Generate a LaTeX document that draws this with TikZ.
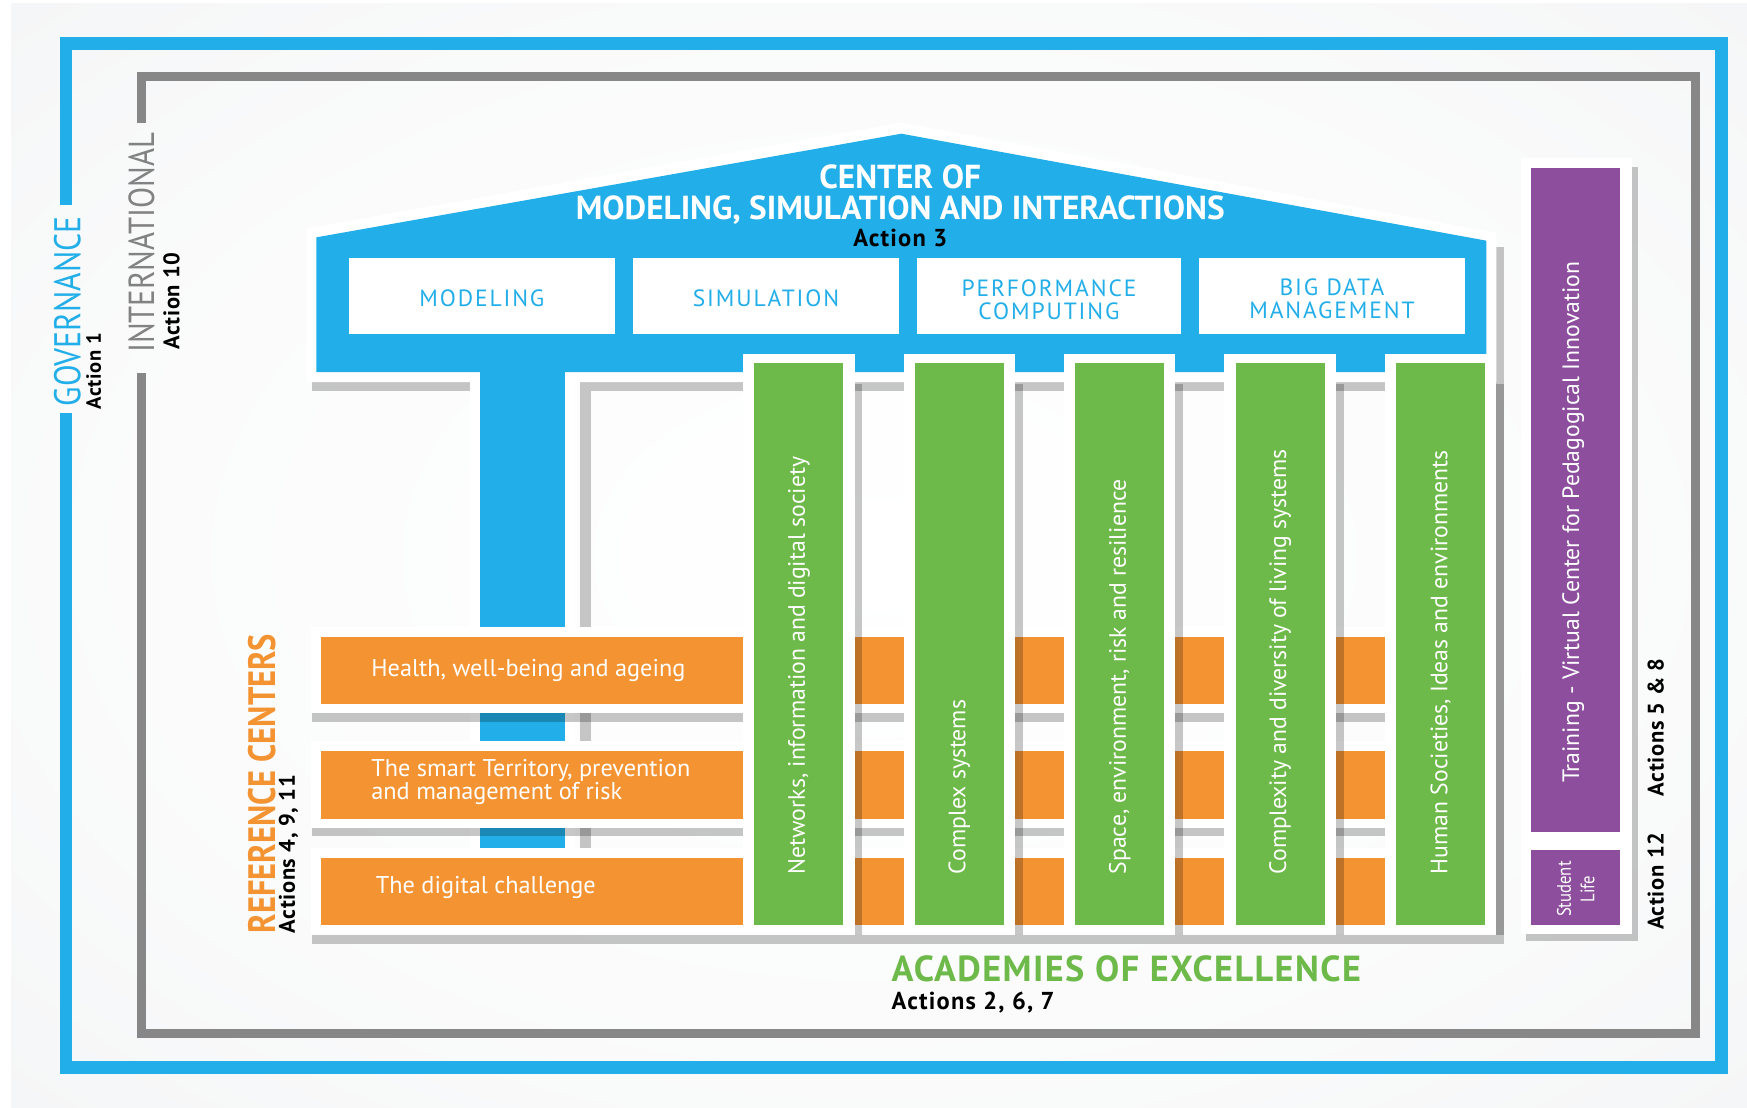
\documentclass[tikz,border=0pt]{standalone}
\usepackage{fontspec}
\setmainfont{PT Sans}
\newfontfamily\condfont[FakeStretch=0.85]{PT Sans}
\newfontfamily\spacedfont[LetterSpace=8]{PT Sans}
\newfontfamily\acadfont[LetterSpace=4]{PT Sans}
\newfontfamily\actfont[LetterSpace=5]{PT Sans}
\newfontfamily\ractfont[LetterSpace=3]{PT Sans}
\newcommand\fnt[2]{\fontsize{#1}{#2}\selectfont}
\definecolor{cblue}{HTML}{22AEE9}
\definecolor{cgreen}{HTML}{6DBA4A}
\definecolor{corange}{HTML}{F39332}
\definecolor{cpurple}{HTML}{8C4E9D}
\definecolor{cgray}{HTML}{878787}
\definecolor{ctxtgray}{HTML}{828282}
\definecolor{bgedge}{HTML}{DDE1E5}
\definecolor{bgmid}{HTML}{F4F5F6}
\pgfdeclareradialshading{bgshade}{\pgfpoint{0bp}{0bp}}{color(0bp)=(white); color(22bp)=(white!60!bgmid); color(38bp)=(bgmid); color(50bp)=(bgedge)}
\begin{document}
\begin{tikzpicture}[x=0.2mm,y=-0.2mm,
  shadowc/.style={fill=black,opacity=0.22},
  boxtxt/.style={font=\spacedfont\fnt{12}{13}, text=cblue, anchor=base, inner sep=0pt},
  titletxt/.style={font=\bfseries\fnt{17}{20}, text=white, anchor=base, inner sep=0pt},
  acttxt/.style={font=\actfont\bfseries\fnt{12.5}{13}, text=black, inner sep=0pt},
  coltxt/.style={font=\fnt{12.1}{14}, text=white, rotate=90, anchor=west, inner sep=0pt},
  orgtxt/.style={font=\fnt{12.4}{14}, text=white, anchor=base west, inner sep=0pt},
  sidelab/.style={font=\condfont\fnt{19}{21}, rotate=90, anchor=west, inner sep=0pt},
  rotact/.style={font=\ractfont\bfseries\fnt{11.5}{13}, text=black, inner sep=0pt, rotate=90, anchor=west}]

\useasboundingbox (0,0) rectangle (1568,994);
\fill[white] (0,0) rectangle (1568,994);
\shade[shading=bgshade] (10,3) rectangle (1568,994);

% outer frames
\draw[cblue, line width=2.2mm, line join=miter] (59,184) -- (59,39) -- (1545,39) -- (1545,958) -- (59,958) -- (59,371);
\draw[cgray, line width=1.6mm, line join=miter] (127,110) -- (127,69) -- (1522,69) -- (1522,928) -- (127,928) -- (127,335);

% frame labels
\node[sidelab, text=cblue] (gov) at (60.5,365) {GOVERNANCE};
\node[rotact, font=\ractfont\bfseries\fnt{10.5}{12}] (act1) at (84,368) {Action 1};
\node[sidelab, font=\condfont\fnt{18.5}{21}, text=ctxtgray] (intl) at (127,317) {INTERNATIONAL};
\node[rotact] (act10) at (154,314) {Action 10};

% T-shaped center: shadows, white outline, blue body
\fill[shadowc] (280,343) rectangle (422,351);
\fill[shadowc] (521,343) rectangle (1343,351);
\fill[shadowc] (521,351) rectangle (530,765);
\fill[shadowc] (1343,222) rectangle (1350,839);
\fill[white] (275,205) -- (809,110) -- (1343,209) -- (1343,343) -- (516,343) -- (516,770) -- (422,770) -- (422,343) -- (275,343) -- cycle;
\fill[cblue] (284,213) -- (809,120) -- (1334,216) -- (1334,334) -- (507,334) -- (507,765) -- (431,765) -- (431,334) -- (284,334) -- cycle;

% title
\node[titletxt] (t1) at (808,169) {CENTER OF};
\node[titletxt] (t2) at (808,197) {MODELING, SIMULATION AND INTERACTIONS};
\node[acttxt, anchor=base] (act3) at (808,221) {Action 3};

% white boxes
\fill[white] (313,232) rectangle (552,300);
\fill[white] (568,232) rectangle (807,300);
\fill[white] (823,232) rectangle (1060,300);
\fill[white] (1076,232) rectangle (1315,300);
\node[boxtxt] (bmod) at (432.5,275) {MODELING};
\node[boxtxt] (bsim) at (687.5,275) {SIMULATION};
\node[boxtxt] (bperf1) at (941.5,266) {PERFORMANCE};
\node[boxtxt] (bperf2) at (941.5,287) {COMPUTING};
\node[boxtxt] (bbig1) at (1195.5,265) {BIG DATA};
\node[boxtxt] (bbig2) at (1195.5,286) {MANAGEMENT};

% orange rows
\fill[shadowc] (280,640) rectangle (1250,648);
\fill[shadowc] (280,743) rectangle (1250,750);
\fill[shadowc] (280,839) rectangle (1350,847);
\foreach \ya/\yb in {572/632, 674/735, 770/830}{
  \fill[white] (279,\ya-9) rectangle (1299,\yb+8);
  \fill[corange] (288,\ya) rectangle (1290,\yb);
}
\node[orgtxt] (o1) at (333,607) {Health, well-being and ageing};
\node[orgtxt] (o2a) at (333,697) {The smart Territory, prevention};
\node[orgtxt] (o2b) at (333,718) {and management of risk};
\node[orgtxt] (o3) at (337,802) {The digital challenge};

% green columns
\foreach \i/\t in {0/{Networks, information and digital society},1/{Complex systems},2/{Space, environment, risk and resilience},3/{Complexity and diversity of living systems},4/{Human Societies, Ideas and environments}}{
  \pgfmathsetmacro\xl{677+144*\i}
  \fill[shadowc] (\xl+90,345) rectangle (\xl+97,839);
  \fill[white] (\xl-10,318) rectangle (\xl+90,838);
  \fill[cgreen] (\xl,326) rectangle (\xl+80,830);
  \node[coltxt] (col\i) at (\xl+40,785) {\t};
}

% purple column
\fill[shadowc] (1465,150) rectangle (1470,845);
\fill[shadowc] (1370,838) rectangle (1465,845);
\fill[white] (1365,142) rectangle (1465,838);
\fill[cpurple] (1374,151) rectangle (1454,747);
\fill[cpurple] (1374,763) rectangle (1454,830);
\node[coltxt] (train) at (1412,703) {Training - Virtual Center for Pedagogical Innovation};
\node[font=\condfont\fnt{10}{11}, text=white, rotate=90, anchor=base, inner sep=0pt] (stud) at (1410,798) {Student};
\node[font=\condfont\fnt{10}{11}, text=white, rotate=90, anchor=base, inner sep=0pt] (life) at (1431,798) {Life};
\node[rotact] (act58) at (1486,715) {Actions 5 \& 8};
\node[rotact] (act12) at (1486,835) {Action 12};

% reference centers label
\node[sidelab, font=\condfont\bfseries\fnt{19.5}{21}, text=corange] (refc) at (235,838) {REFERENCE CENTERS};
\node[rotact] (act4) at (259,838) {Actions 4, 9, 11};

% academies label
\node[font=\acadfont\bfseries\fnt{18.5}{20}, text=cgreen, anchor=base west, inner sep=0pt] (acad) at (800,881) {ACADEMIES OF EXCELLENCE};
\node[acttxt, anchor=base west] (act267) at (800,906) {Actions 2, 6, 7};
\end{tikzpicture}
\end{document}
